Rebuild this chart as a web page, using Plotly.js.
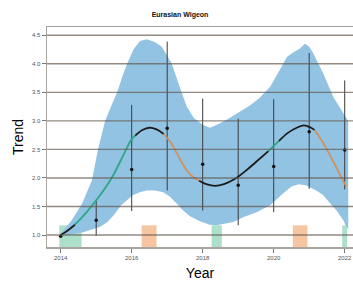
<!DOCTYPE html>
<html>
<head>
<meta charset="utf-8">
<script src="https://cdn.plot.ly/plotly-3.0.1.min.js"></script>
<style>html,body{margin:0;padding:0;background:#fff;}#chart{width:353px;height:287px;}</style>
</head>
<body>
<div id="chart"></div>
<script>
// ---- Data ----
const years = [2014, 2015, 2016, 2017, 2018, 2019, 2020, 2021, 2022];
const estimates = [0.98, 1.26, 2.15, 2.87, 2.24, 1.87, 2.20, 2.81, 2.49];
const ciLow = [0.98, 0.99, 1.42, 1.78, 1.43, 1.17, 1.40, 1.81, 1.80];
const ciHigh = [0.98, 1.60, 3.28, 4.39, 3.39, 3.04, 3.38, 4.19, 3.71];

const bandUpperYears = [2014.0, 2014.3, 2014.6, 2014.88, 2015.05, 2015.25, 2015.45, 2015.59, 2015.75, 2015.87, 2016.05, 2016.23, 2016.42, 2016.65, 2016.85, 2017.0, 2017.13, 2017.36, 2017.55, 2017.75, 2018.0, 2018.2, 2018.4, 2018.7, 2019.05, 2019.33, 2019.6, 2019.9, 2020.17, 2020.37, 2020.55, 2020.74, 2020.88, 2021.0, 2021.11, 2021.39, 2021.68, 2021.96, 2022.1];
const bandUpper = [1.02, 1.25, 1.55, 1.96, 2.5, 3.0, 3.3, 3.5, 3.8, 4.0, 4.25, 4.4, 4.43, 4.38, 4.30, 4.15, 4.0, 3.58, 3.25, 3.05, 2.93, 2.88, 2.93, 3.03, 3.17, 3.27, 3.40, 3.6, 3.89, 4.12, 4.2, 4.27, 4.35, 4.3, 4.19, 3.84, 3.42, 3.13, 3.0];
const bandLowerYears = [2014.0, 2014.3, 2014.63, 2015.1, 2015.3, 2015.5, 2015.7, 2015.86, 2016.04, 2016.23, 2016.42, 2016.65, 2016.89, 2017.08, 2017.27, 2017.45, 2017.64, 2017.92, 2018.2, 2018.39, 2018.6, 2018.86, 2019.14, 2019.33, 2019.52, 2019.9, 2020.1, 2020.27, 2020.5, 2020.7, 2020.9, 2021.02, 2021.2, 2021.39, 2021.6, 2021.77, 2021.96, 2022.05, 2022.1];
const bandLower = [0.98, 1.01, 1.05, 1.14, 1.22, 1.35, 1.52, 1.60, 1.70, 1.75, 1.78, 1.78, 1.75, 1.67, 1.55, 1.43, 1.33, 1.24, 1.18, 1.17, 1.19, 1.23, 1.31, 1.36, 1.40, 1.52, 1.63, 1.73, 1.85, 1.89, 1.87, 1.84, 1.78, 1.70, 1.55, 1.43, 1.26, 1.14, 1.10];

const trendYears = [2014.0, 2014.2, 2014.4, 2014.7, 2015.0, 2015.25, 2015.5, 2015.75, 2016.0, 2016.1, 2016.3, 2016.5, 2016.7, 2016.9, 2017.1, 2017.3, 2017.5, 2017.7, 2017.9, 2018.1, 2018.35, 2018.6, 2018.9, 2019.2, 2019.5, 2019.85, 2020.0, 2020.15, 2020.4, 2020.65, 2020.85, 2021.05, 2021.15, 2021.35, 2021.55, 2021.75, 2022.0, 2022.05];
const trendValues = [1.00, 1.08, 1.18, 1.38, 1.61, 1.82, 2.07, 2.38, 2.68, 2.74, 2.84, 2.88, 2.85, 2.77, 2.62, 2.40, 2.18, 2.03, 1.95, 1.89, 1.86, 1.89, 1.98, 2.12, 2.28, 2.47, 2.56, 2.65, 2.79, 2.88, 2.92, 2.88, 2.84, 2.66, 2.44, 2.20, 1.90, 1.85];
// segment significance: start year, end year, type
const segStart = [2014.0, 2014.4, 2016.1, 2016.9, 2017.9, 2019.85, 2020.15, 2021.15];
const segEnd   = [2014.4, 2016.1, 2016.9, 2017.9, 2019.85, 2020.15, 2021.15, 2022.05];
const segType  = ['ns', 'up', 'ns', 'down', 'ns', 'up', 'ns', 'down'];

// significance boxes on the time axis
const sigStart = [2013.96, 2016.28, 2018.25, 2020.54, 2021.93];
const sigEnd   = [2014.59, 2016.70, 2018.54, 2020.95, 2022.07];
const sigType  = ['up', 'down', 'up', 'down', 'up'];
const sigTop = 1.17;

const yTicks = [1.0, 1.5, 2.0, 2.5, 3.0, 3.5, 4.0, 4.5];
const xTicks = [2014, 2016, 2018, 2020, 2022];

// ---- Styles ----
const lineColors = {ns: '#1b1b1b', up: '#2fa785', down: '#d0915e'};
const boxColors = {up: '#ade0cb', down: '#f6c5a2'};
const yMin = 0.79, yMax = 4.645;

const traces = [];
// band polygon
const polyX = bandUpperYears.concat(bandLowerYears.slice().reverse());
const polyY = bandUpper.concat(bandLower.slice().reverse());
traces.push({x: polyX, y: polyY, type: 'scatter', mode: 'lines', fill: 'toself',
  fillcolor: '#92c3e3', line: {width: 0, color: '#92c3e3'}, hoverinfo: 'skip', showlegend: false});

// error bars + points
traces.push({x: years, y: estimates, type: 'scatter', mode: 'markers',
  marker: {size: 3.5, color: '#111'},
  error_y: {type: 'data', symmetric: false,
    array: ciHigh.map((h, i) => h - estimates[i]),
    arrayminus: ciLow.map((l, i) => estimates[i] - l),
    color: '#3a3a3a', thickness: 1, width: 0},
  showlegend: false});

// trend segments
for (let s = 0; s < segStart.length; s++) {
  const xs = [], ys = [];
  trendYears.forEach((t, i) => { if (t >= segStart[s] - 1e-9 && t <= segEnd[s] + 1e-9) { xs.push(t); ys.push(trendValues[i]); } });
  traces.push({x: xs, y: ys, type: 'scatter', mode: 'lines',
    line: {color: lineColors[segType[s]], width: 1.8, shape: 'spline'}, showlegend: false});
}

const shapes = [];
sigStart.forEach((s, i) => {
  shapes.push({type: 'rect', xref: 'x', yref: 'y', x0: s, x1: sigEnd[i], y0: yMin, y1: sigTop,
    fillcolor: boxColors[sigType[i]], line: {width: 0}, layer: 'below'});
});
yTicks.forEach(v => {
  shapes.push({type: 'line', xref: 'paper', yref: 'y', x0: 0, x1: 1, y0: v, y1: v,
    line: {color: 'rgba(100,88,78,0.7)', width: 1.4}, layer: 'above'});
});

const layout = {
  width: 353, height: 287,
  margin: {l: 47, r: 0, t: 27, b: 40},
  paper_bgcolor: '#fff', plot_bgcolor: '#fff',
  font: {family: 'Liberation Sans, Arial, sans-serif', color: '#222'},
  title: {text: '<b>Eurasian Wigeon</b>', font: {size: 7, color: '#111'}, x: 0.51, xanchor: 'center', y: 0.951, yanchor: 'middle'},
  xaxis: {range: [2013.614, 2022.234], tickvals: xTicks, ticktext: xTicks.map(String),
    showgrid: false, zeroline: false, showline: true, mirror: true, linecolor: '#aaa49e', linewidth: 1.5,
    ticks: 'outside', ticklen: 4, tickcolor: '#777', tickfont: {size: 6, color: '#555'},
    title: {text: 'Year', font: {size: 14, color: '#000'}, standoff: 8}, automargin: false},
  yaxis: {range: [yMin, yMax], tickvals: yTicks, ticktext: yTicks.map(v => v.toFixed(1)),
    showgrid: false, zeroline: false, showline: true, linecolor: '#aaa49e', linewidth: 1.5,
    ticks: 'outside', ticklen: 4, tickcolor: '#777', tickfont: {size: 6, color: '#555'},
    title: {text: 'Trend', font: {size: 14, color: '#000'}, standoff: 5}, automargin: false},
  shapes: shapes,
  showlegend: false
};

Plotly.newPlot('chart', traces, layout, {staticPlot: true, displayModeBar: false});
</script>
</body>
</html>
